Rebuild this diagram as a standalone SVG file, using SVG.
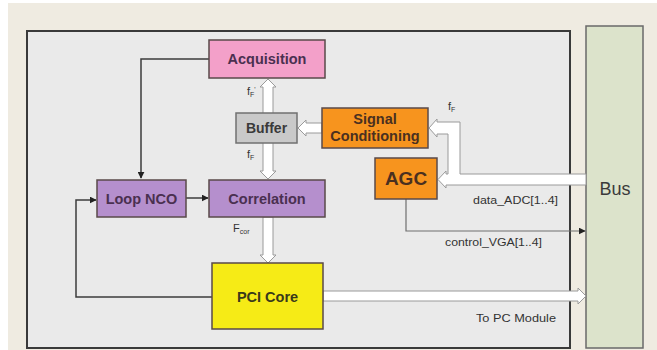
<svg xmlns="http://www.w3.org/2000/svg" width="657" height="350" viewBox="0 0 657 350">
<defs>
<style>
.node{stroke:#5a4a4a;stroke-width:1.5}
.lbl{font-family:"Liberation Sans",Arial,sans-serif;font-size:14.5px;font-weight:bold;fill:#4a3050;text-anchor:middle}
.sm{font-family:"Liberation Sans",Arial,sans-serif;font-size:10.5px;fill:#333}
.hollow{fill:#ffffff;stroke:#9a9a9a;stroke-width:1}
.wire{fill:none;stroke:#3c3c3c;stroke-width:1.5}
</style>
<marker id="ah" viewBox="0 0 10 10" refX="9" refY="5" markerWidth="7" markerHeight="7" orient="auto" markerUnits="userSpaceOnUse">
<path d="M0,0 L10,5 L0,10 z" fill="#222"/>
</marker>
</defs>
<rect x="0" y="0" width="657" height="350" fill="#ffffff"/>
<rect x="8" y="3" width="649" height="347" fill="#efebe1"/>
<rect id="panel" x="27" y="31" width="543" height="317" fill="#eaeaea" stroke="#3a3a3a" stroke-width="2"/>
<g id="bus">
<rect x="586" y="26" width="57" height="322" fill="#dce3cb" stroke="#6a6a6a" stroke-width="1.5"/>
<text x="615" y="195" class="lbl" style="font-size:18px;font-weight:normal;fill:#3a3a3a">Bus</text>
</g>
<g id="connectors">
<path class="wire" d="M209,59 H141 V178" marker-end="url(#ah)"/>
<path class="wire" d="M186,198 H208" marker-end="url(#ah)"/>
<path class="wire" d="M212,297 H76 V200 H96" marker-end="url(#ah)"/>
<path class="wire" style="stroke:#6e6e6e;stroke-width:1.2" d="M406,199 V231 H585" marker-end="url(#ah)"/>
<polygon class="hollow" points="268,79 276,87 273,87 273,171 276,171 268,179 260,171 263,171 263,87 260,87"/>
<polygon class="hollow" points="268,263 276,255 273,255 273,217 263,217 263,255 260,255"/>
<polygon class="hollow" points="298,128 306,120 306,123 322,123 322,133 306,133 306,136"/>
<polygon class="hollow" points="586,174 460,174 460,122 437,122 437,119 429,128 437,137 437,134 448,134 448,174 446,174 446,171 438,179.5 446,188 446,185 586,185"/>
<polygon class="hollow" points="586,296 578,288 578,291 323,291 323,301 578,301 578,304"/>
<text x="247" y="95" class="sm" style="font-size:11px">f<tspan font-size="7" dy="2">F</tspan><tspan dy="-5" font-size="7">'</tspan></text>
<text x="247" y="158" class="sm" style="font-size:11px">f<tspan font-size="7" dy="2">F</tspan></text>
<text x="448" y="110" class="sm" style="font-size:11px">f<tspan font-size="7" dy="2">F</tspan></text>
<text x="233" y="232" class="sm" style="font-size:11px">F<tspan font-size="7" dy="2">cor</tspan></text>
<text x="473" y="204" class="sm" textLength="85" lengthAdjust="spacingAndGlyphs">data_ADC[1..4]</text>
<text x="445" y="246" class="sm" textLength="97" lengthAdjust="spacingAndGlyphs">control_VGA[1..4]</text>
<text x="476" y="322" class="sm" textLength="80" lengthAdjust="spacingAndGlyphs">To PC Module</text>
</g>
<g id="acquisition">
<rect class="node" x="209" y="40" width="116" height="38" fill="#f3a0c9"/>
<text x="267" y="64" class="lbl">Acquisition</text>
</g>
<g id="buffer">
<rect class="node" x="236" y="113" width="61" height="30" fill="#c9c9c9" style="stroke:#707070"/>
<text x="266.5" y="133" class="lbl" style="font-size:14px;fill:#3a3a3a">Buffer</text>
</g>
<g id="signal">
<rect class="node" x="322" y="108" width="106" height="40" fill="#f7941e"/>
<text x="375" y="124" class="lbl" style="fill:#4a3020">Signal</text>
<text x="375" y="141" class="lbl" style="fill:#4a3020">Conditioning</text>
</g>
<g id="agc">
<rect class="node" x="375" y="158" width="62" height="41" fill="#f7941e"/>
<text x="406" y="185" class="lbl" style="font-size:19px;fill:#4a3020">AGC</text>
</g>
<g id="loopnco">
<rect class="node" x="97" y="180" width="89" height="37" fill="#b58fcd"/>
<text x="141.5" y="204" class="lbl">Loop NCO</text>
</g>
<g id="correlation">
<rect class="node" x="209" y="180" width="116" height="37" fill="#b58fcd"/>
<text x="267" y="204" class="lbl">Correlation</text>
</g>
<g id="pcicore">
<rect class="node" x="212" y="263" width="111" height="66" fill="#f6eb16"/>
<text x="267.5" y="302" class="lbl" style="fill:#3a3a1a">PCI Core</text>
</g>
</svg>
